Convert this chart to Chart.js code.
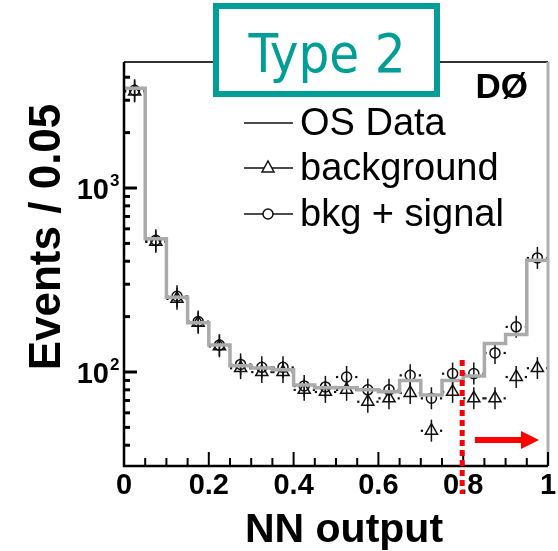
<!DOCTYPE html>
<html><head><meta charset="utf-8">
<script src="https://cdn.jsdelivr.net/npm/chart.js@4.4.1/dist/chart.umd.min.js"></script>
<style>html,body{margin:0;padding:0;background:#fff;overflow:hidden}</style>
</head><body>
<canvas id="c" width="558" height="551"></canvas>
<script>
// ---- data ----
const binEdges   = [0,0.05,0.1,0.15,0.2,0.25,0.3,0.35,0.4,0.45,0.5,0.55,0.6,0.65,0.7,0.75,0.8,0.85,0.9,0.95,1.0];
const binCenters = [0.025,0.075,0.125,0.175,0.225,0.275,0.325,0.375,0.425,0.475,0.525,0.575,0.625,0.675,0.725,0.775,0.825,0.875,0.925,0.975];
const osData     = [3490,530,255,185,140,108,105,103,85,82,82,80,78,90,75,90,95,143,160,405];
const background = [3350,510,250,185,138,105,100,100,80,78,80,69,72,77,48,78,72,72,94,105];
const bkgSignal  = [3400,520,258,188,140,110,106,106,84,83,94,80,80,96,72,98,98,127,176,417];
const xTickValues = [0,0.2,0.4,0.6,0.8,1];
const xTickLabels = ['0','0.2','0.4','0.6','0.8','1'];
const yTickValues = [100,1000];
const yTickLabels = [['10','2'],['10','3']];
const legendLabels = ['OS Data','background','bkg + signal'];
const cutValue = 0.8;
const yMin = 30.84, yMax = 4840;

const stepData = binEdges.map((e,i)=>({x:e, y: osData[Math.min(i, osData.length-1)]}));
const bgPts = binCenters.map((c,i)=>({x:c, y:background[i]}));
const sgPts = binCenters.map((c,i)=>({x:c, y:bkgSignal[i]}));

const SANS = '"Liberation Sans", Arial, sans-serif';

const deco = {
  id:'deco',
  beforeDatasetsDraw(chart){
    const ctx = chart.ctx, xs = chart.scales.x, ys = chart.scales.y;
    ctx.save();
    ctx.strokeStyle = '#111'; ctx.fillStyle = '#111'; ctx.lineWidth = 1.5;
    [background, bkgSignal].forEach(arr=>{
      arr.forEach((v,i)=>{
        const px = xs.getPixelForValue(binCenters[i]);
        const py = ys.getPixelForValue(v);
        ctx.beginPath(); ctx.moveTo(px, py-11); ctx.lineTo(px, py+11); ctx.stroke();
        const xl = xs.getPixelForValue(binEdges[i])+1, xr = xs.getPixelForValue(binEdges[i+1])-1;
        ctx.fillRect(xl-1, py-1, 2.2, 2.2);
        ctx.fillRect(xr-1, py-1, 2.2, 2.2);
      });
    });
    ctx.restore();
  },
  afterDraw(chart){
    const ctx = chart.ctx, xs = chart.scales.x, ys = chart.scales.y, a = chart.chartArea;
    ctx.save();
    // frame: top and right
    ctx.strokeStyle = '#333'; ctx.lineWidth = 2;
    ctx.beginPath(); ctx.moveTo(a.left, a.top); ctx.lineTo(a.right, a.top); ctx.stroke();
    ctx.strokeStyle = '#b0b0b0'; ctx.lineWidth = 3;
    ctx.beginPath(); ctx.moveTo(a.right, a.top); ctx.lineTo(a.right, a.bottom); ctx.stroke();
    // axes
    ctx.strokeStyle = '#000'; ctx.lineWidth = 2.5;
    ctx.beginPath(); ctx.moveTo(a.left, a.top); ctx.lineTo(a.left, a.bottom); ctx.lineTo(a.right, a.bottom); ctx.stroke();
    // x ticks (inward)
    ctx.lineWidth = 2;
    for (let k=1;k<binEdges.length;k++){
      const v = binEdges[k];
      const px = xs.getPixelForValue(v);
      const major = xTickValues.some(t=>Math.abs(t-v)<1e-9);
      ctx.beginPath(); ctx.moveTo(px, a.bottom); ctx.lineTo(px, a.bottom - (major?14:8)); ctx.stroke();
    }
    // y ticks (inward)
    for (let dec=10; dec<=10000; dec*=10){
      for (let m=1;m<=9;m++){
        const v = m*dec;
        if (v<=yMin || v>=yMax) continue;
        const py = ys.getPixelForValue(v);
        const major = (m===1);
        ctx.lineWidth = major?3:3;
        ctx.beginPath(); ctx.moveTo(a.left, py); ctx.lineTo(a.left + (major?13:6), py); ctx.stroke();
      }
    }
    // x tick labels
    ctx.fillStyle = '#000';
    ctx.font = 'bold 29px ' + SANS; ctx.textAlign='center'; ctx.textBaseline='alphabetic';
    xTickValues.forEach((v,i)=>{
      ctx.fillText(xTickLabels[i], xs.getPixelForValue(v), 494);
    });
    // y tick labels
    yTickValues.forEach((v,i)=>{
      const py = ys.getPixelForValue(v);
      ctx.font = 'bold 29px ' + SANS; ctx.textAlign='right';
      ctx.fillText(yTickLabels[i][0], 109, py+11);
      ctx.font = 'bold 17px ' + SANS; ctx.textAlign='left';
      ctx.fillText(yTickLabels[i][1], 110, py-2);
    });
    // axis titles
    ctx.font = 'bold 41px ' + SANS; ctx.textAlign='center';
    ctx.fillText('NN output', 344, 542);
    ctx.save();
    ctx.translate(60, 237); ctx.rotate(-Math.PI/2);
    ctx.font = 'bold 44px ' + SANS; ctx.textAlign='center';
    ctx.fillText('Events / 0.05', 0, 0);
    ctx.restore();
    // DØ
    ctx.font = 'bold 35px ' + SANS; ctx.textAlign='right';
    ctx.fillText('DØ', 528, 98);
    // legend
    const rows = [123, 168, 214];
    ctx.font = '38px ' + SANS; ctx.textAlign='left';
    ctx.strokeStyle = '#111'; ctx.lineWidth = 1.5;
    rows.forEach((ry,i)=>{
      ctx.beginPath(); ctx.moveTo(244, ry); ctx.lineTo(293, ry); ctx.stroke();
      if (i===1){
        ctx.beginPath();
        ctx.moveTo(268, ry-7); ctx.lineTo(268+6, ry+4); ctx.lineTo(268-6, ry+4); ctx.closePath();
        ctx.fillStyle='#fff'; ctx.fill(); ctx.stroke();
      } else if (i===2){
        ctx.beginPath(); ctx.arc(268, ry, 5, 0, Math.PI*2);
        ctx.fillStyle='#fff'; ctx.fill(); ctx.stroke();
      }
      ctx.fillStyle='#000';
      ctx.fillText(legendLabels[i], 300, ry+12);
    });
    // red cut line
    const cx = xs.getPixelForValue(cutValue) - 1;
    ctx.strokeStyle = '#ff0000'; ctx.lineWidth = 5; ctx.setLineDash([6,4]);
    ctx.beginPath(); ctx.moveTo(cx, 360); ctx.lineTo(cx, 494); ctx.stroke();
    ctx.setLineDash([]);
    // arrow
    ctx.fillStyle = '#ff0000';
    ctx.fillRect(475, 437, 48, 6);
    ctx.beginPath(); ctx.moveTo(521, 431); ctx.lineTo(539, 440); ctx.lineTo(521, 449); ctx.closePath(); ctx.fill();
    // Type 2 box
    ctx.fillStyle = '#fff';
    ctx.fillRect(213, 3, 227, 94);
    ctx.strokeStyle = '#009E96'; ctx.lineWidth = 6;
    ctx.strokeRect(216, 6, 221, 88);
    ctx.fillStyle = '#009E96';
    ctx.font = '54px "DejaVu Sans Condensed", "DejaVu Sans", sans-serif'; ctx.textAlign='center';
    ctx.fillText('Type 2', 327, 72);
    ctx.restore();
  }
};

new Chart(document.getElementById('c'), {
  type:'line',
  data:{ datasets:[
    {label:'OS Data', data:stepData, stepped:'before', borderColor:'#aaaaaa', borderWidth:3.5, pointRadius:0, fill:false},
    {label:'background', data:bgPts, showLine:false, pointStyle:'triangle', pointRadius:7, borderColor:'#111', borderWidth:1.5, backgroundColor:'rgba(255,255,255,0)'},
    {label:'bkg + signal', data:sgPts, showLine:false, pointStyle:'circle', pointRadius:5, borderColor:'#111', borderWidth:1.5, backgroundColor:'rgba(255,255,255,0)'}
  ]},
  options:{
    responsive:false, animation:false, devicePixelRatio:1,
    layout:{padding:{left:124, right:10, top:62, bottom:85}},
    scales:{
      x:{type:'linear', min:0, max:1, display:false},
      y:{type:'logarithmic', min:yMin, max:yMax, display:false}
    },
    plugins:{legend:{display:false}, tooltip:{enabled:false}}
  },
  plugins:[deco]
});
</script>
</body></html>
